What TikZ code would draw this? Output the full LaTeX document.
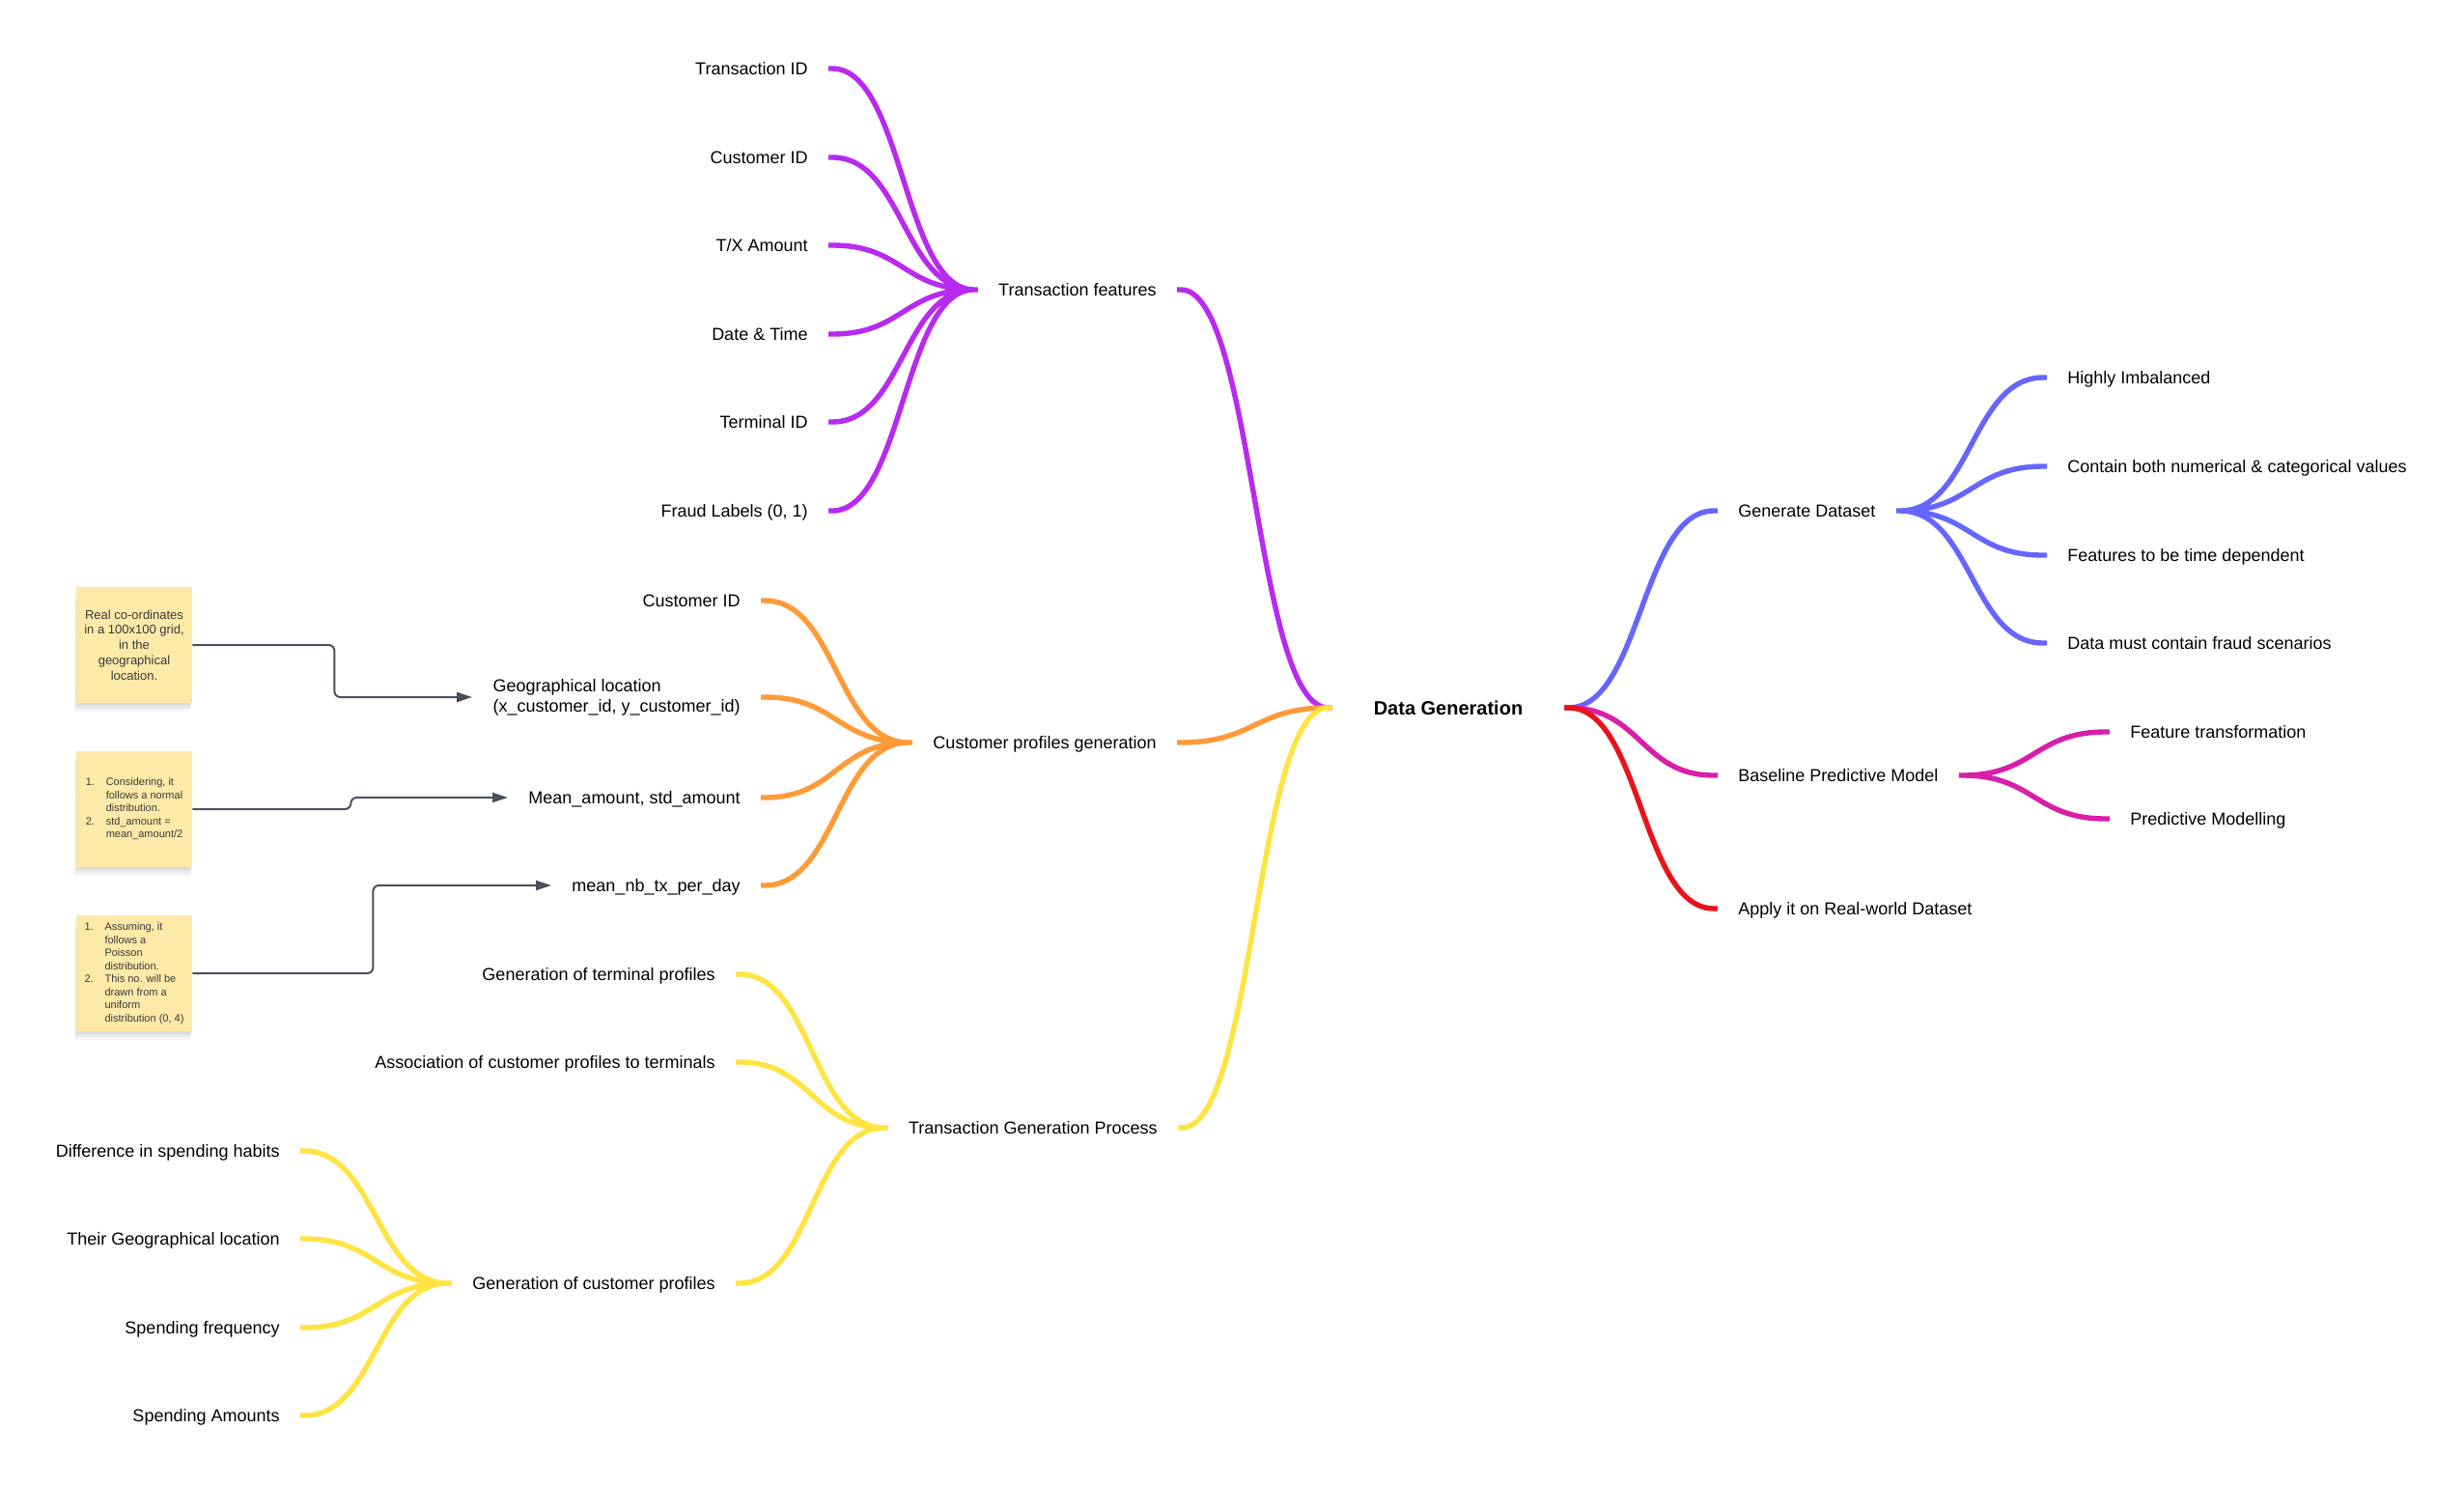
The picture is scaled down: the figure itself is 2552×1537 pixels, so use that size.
\documentclass[tikz,border=0pt]{standalone}
\usepackage{fontspec}
\setmainfont{Liberation Sans}
\usetikzlibrary{calc,arrows.meta}
\definecolor{cpurple}{HTML}{B82AF0}
\definecolor{corange}{HTML}{FF9A38}
\definecolor{cyellow}{HTML}{FFE342}
\definecolor{cblue}{HTML}{6565FF}
\definecolor{cmag}{HTML}{D81EAA}
\definecolor{cred}{HTML}{E8141B}
\definecolor{stickyfill}{HTML}{FDE9A8}
\definecolor{arrgray}{HTML}{4A505B}
\definecolor{stext}{HTML}{3A3A3A}
\begin{document}
\begin{tikzpicture}[x=0.5pt,y=-0.5pt,
  tx/.style={font=\fontsize{9}{10.5}\selectfont, inner xsep=10.5pt, inner ysep=0pt, text height=6.5pt, text depth=0pt},
  lt/.style={tx, anchor=east},
  rtx/.style={tx, anchor=west},
  br/.style={line width=2.7pt, to path={let \p1=(\tikztostart), \p2=(\tikztotarget) in -- ++(2pt,0) .. controls ({0.5*\x1+0.5*\x2},\y1) and ({0.5*\x1+0.5*\x2},\y2) .. ([xshift=-2pt]\p2) -- (\p2)}},
  sticky/.style={fill=stickyfill, minimum width=60pt, minimum height=60pt, inner sep=0pt, text=stext,
    preaction={fill=black, opacity=0.05, transform canvas={yshift=-1.5pt}},
    preaction={fill=black, opacity=0.05, transform canvas={yshift=-3pt, xshift=-0.5pt}},
    preaction={fill=black, opacity=0.04, transform canvas={yshift=-4.5pt, xshift=-1pt}}},
  arr/.style={draw=arrgray, line width=1pt, rounded corners=3pt, -{Triangle[length=8pt,width=5pt]}}
]
\useasboundingbox (0,0) rectangle (2552,1537);

% central node
\node[font=\fontsize{10}{12}\selectfont\bfseries, minimum width=120pt, inner sep=0pt, text height=7.2pt, text depth=0pt] (dg) at (1500,733) {Data Generation};

% Transaction features (purple)
\node[lt] (tf) at (1219,300) {Transaction features};
\node[lt] (p1) at (858,71) {Transaction ID};
\node[lt] (p2) at (858,163) {Customer ID};
\node[lt] (p3) at (858,254) {T/X Amount};
\node[lt] (p4) at (858,346) {Date \& Time};
\node[lt] (p5) at (858,437) {Terminal ID};
\node[lt] (p6) at (858,529) {Fraud Labels (0, 1)};
\draw[br,cpurple] (p1.east) to (tf.west) (p2.east) to (tf.west) (p3.east) to (tf.west)
  (p4.east) to (tf.west) (p5.east) to (tf.west) (p6.east) to (tf.west);
\draw[br,cpurple] (tf.east) to (dg.west);

% Customer profiles generation (orange)
\node[lt] (cp) at (1219,769) {Customer profiles generation};
\node[lt] (o1) at (788,622) {Customer ID};
\node[font=\fontsize{9}{10.5}\selectfont, inner xsep=10.5pt, inner ysep=0pt, align=left, anchor=east] (geo) at (788,722) {Geographical location\\(x\_customer\_id, y\_customer\_id)};
\node[lt] (mean) at (788,826) {Mean\_amount, std\_amount};
\node[lt] (mnb) at (788,917) {mean\_nb\_tx\_per\_day};
\draw[br,corange] (o1.east) to (cp.west) (geo.east) to (cp.west) (mean.east) to (cp.west) (mnb.east) to (cp.west);
\draw[br,corange] (cp.east) to (dg.west);

% Transaction Generation Process (yellow)
\node[lt] (tg) at (1220,1168) {Transaction Generation Process};
\node[lt] (gt) at (762,1009) {Generation of terminal profiles};
\node[lt] (ac) at (762,1100) {Association of customer profiles to terminals};
\node[lt] (gc) at (762,1329) {Generation of customer profiles};
\node[lt] (y1) at (311,1192) {Difference in spending habits};
\node[lt] (y2) at (311,1283) {Their Geographical location};
\node[lt] (y3) at (311,1375) {Spending frequency};
\node[lt] (y4) at (311,1466) {Spending Amounts};
\draw[br,cyellow] (y1.east) to (gc.west) (y2.east) to (gc.west) (y3.east) to (gc.west) (y4.east) to (gc.west);
\draw[br,cyellow] (gt.east) to (tg.west) (ac.east) to (tg.west) (gc.east) to (tg.west);
\draw[br,cyellow] (tg.east) to (dg.west);

% Right side
\node[rtx] (gd) at (1779,529) {Generate Dataset};
\node[rtx] (b1) at (2120,391) {Highly Imbalanced};
\node[rtx] (b2) at (2120,483) {Contain both numerical \& categorical values};
\node[rtx] (b3) at (2120,575) {Features to be time dependent};
\node[rtx] (b4) at (2120,666) {Data must contain fraud scenarios};
\draw[br,cblue] (dg.east) to (gd.west);
\draw[br,cblue] (gd.east) to (b1.west) (gd.east) to (b2.west) (gd.east) to (b3.west) (gd.east) to (b4.west);

\node[rtx] (bp) at (1779,803) {Baseline Predictive Model};
\node[rtx] (m1) at (2185,758) {Feature transformation};
\node[rtx] (m2) at (2185,848) {Predictive Modelling};
\draw[br,cmag] (dg.east) to (bp.west);
\draw[br,cmag] (bp.east) to (m1.west) (bp.east) to (m2.west);

\node[rtx] (ap) at (1779,941) {Apply it on Real-world Dataset};
\draw[br,cred] (dg.east) to (ap.west);

% sticky notes
\node[sticky, font=\fontsize{6.5}{7.9}\selectfont, align=center] (s1) at (139,668)
  {Real co-ordinates\\in a 100x100 grid,\\in the\\geographical\\location.};
\node[sticky, font=\fontsize{5.5}{6.75}\selectfont, align=left] (s2) at (139,838)
  {\makebox[10.5pt][l]{1.}Considering, it\\\hspace*{10.5pt}follows a normal\\\hspace*{10.5pt}distribution.\\\makebox[10.5pt][l]{2.}std\_amount =\\\hspace*{10.5pt}mean\_amount/2};
\node[sticky, font=\fontsize{5.5}{6.75}\selectfont, align=left] (s3) at (139,1008)
  {\makebox[10.5pt][l]{1.}Assuming, it\\\hspace*{10.5pt}follows a\\\hspace*{10.5pt}Poisson\\\hspace*{10.5pt}distribution.\\\makebox[10.5pt][l]{2.}This no. will be\\\hspace*{10.5pt}drawn from a\\\hspace*{10.5pt}uniform\\\hspace*{10.5pt}distribution (0, 4)};

\draw[arr] (s1.east) -- ++(147,0) |- (geo.west);
\draw[arr] (s2.east) -- ++(164,0) |- (mean.west);
\draw[arr] (s3.east) -- ++(187,0) |- (mnb.west);
\end{tikzpicture}
\end{document}
